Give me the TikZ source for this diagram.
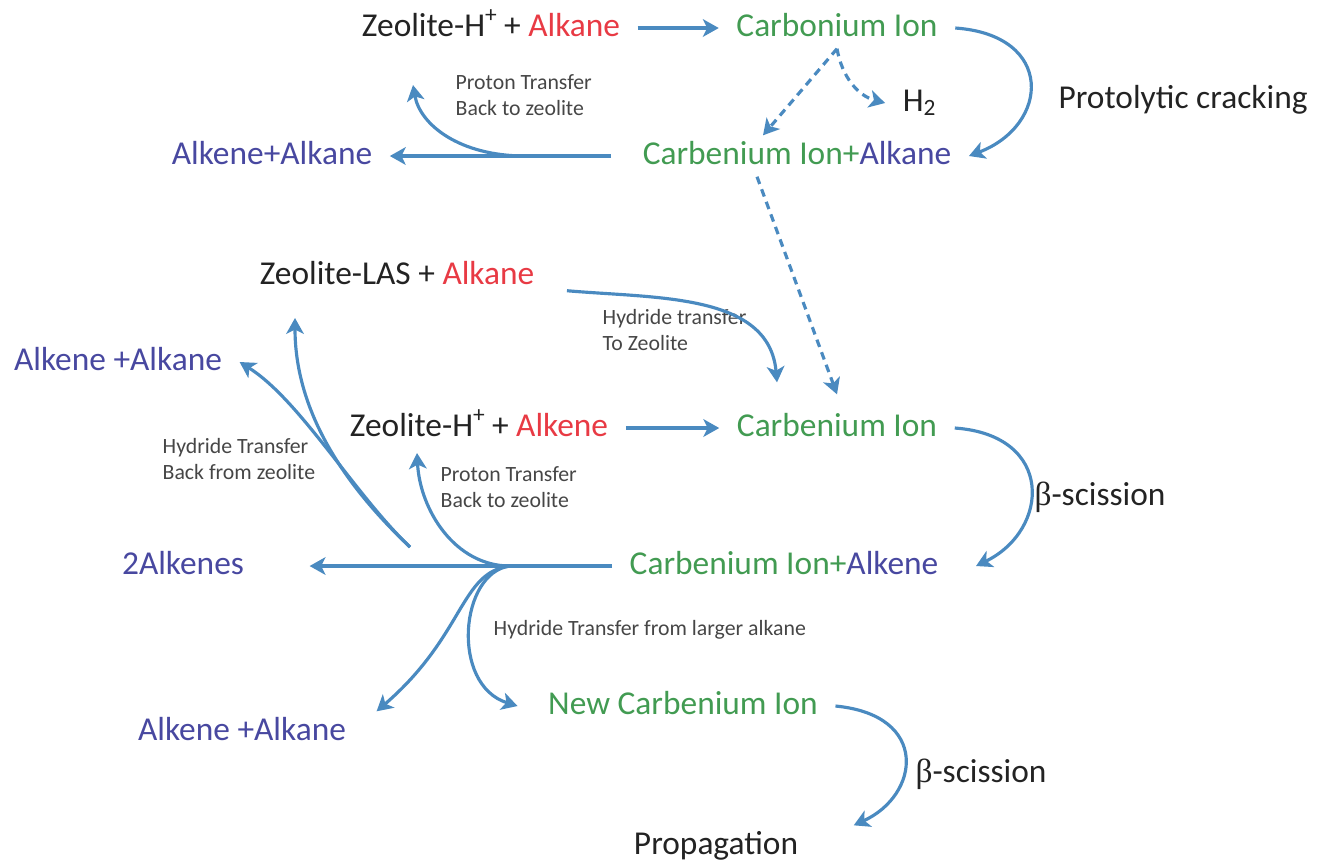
\documentclass[tikz,border=0pt]{standalone}
\usepackage{fontspec}
\setmainfont{Carlito}
\newfontfamily\betafont{Liberation Serif}
\usetikzlibrary{arrows.meta}
\definecolor{arrowblue}{RGB}{74,138,192}
\definecolor{iongreen}{RGB}{66,155,82}
\definecolor{alkred}{RGB}{232,58,68}
\definecolor{alkblue}{RGB}{72,72,160}
\definecolor{txtblack}{RGB}{35,35,35}
\definecolor{txtgray}{RGB}{70,70,70}
\newcommand{\bet}{{\betafont β}}
\begin{document}
\begin{tikzpicture}[x=1cm,y=-1cm,inner xsep=1.7mm,inner ysep=0.5mm,
  text=txtblack, text height=0.23cm, text depth=0.07cm,
  font=\fontsize{9.5}{11}\selectfont,
  >={Stealth[length=4.5pt,width=5pt,inset=1.2pt]},
  flow/.style={draw=arrowblue,line width=0.9pt,->},
  dflow/.style={flow,dash pattern=on 2.2pt off 1.6pt},
  note/.style={font=\fontsize{6.2}{7.4}\selectfont,text=txtgray,align=left,anchor=west,
    inner sep=0pt,text height=,text depth=}]

\useasboundingbox (0,0) rectangle (13.17,8.59);

\node(zh) at (4.91,0.28) {Zeolite-H\textsuperscript{+}\,+ \textcolor{alkred}{Alkane}};
\node(cb) at (8.37,0.28) {\textcolor{iongreen}{Carbonium Ion}};
\node(pc) at (11.83,1.00) {Protolytic cracking};
\node(h2) at (9.20,1.03) {H\textsubscript{2}};
\node(ca) at (7.97,1.56) {\textcolor{iongreen}{Carbenium Ion+}\textcolor{alkblue}{Alkane}};
\node(aa1) at (2.72,1.56) {\textcolor{alkblue}{Alkene+Alkane}};
\node[note](pt1) at (4.55,0.95) {Proton Transfer\\Back to zeolite};

\node(las) at (3.97,2.76) {Zeolite-LAS + \textcolor{alkred}{Alkane}};
\node[note](ht1) at (6.02,3.30) {Hydride transfer\\To Zeolite};
\node(aa2) at (1.18,3.62) {\textcolor{alkblue}{Alkene +Alkane}};
\node(zh2) at (4.79,4.28) {Zeolite-H\textsuperscript{+}\,+ \textcolor{alkred}{Alkene}};
\node(cb2) at (8.37,4.28) {\textcolor{iongreen}{Carbenium Ion}};
\node(bs1) at (11.00,4.97) {\bet-scission};
\node[note](ht2) at (1.62,4.59) {Hydride Transfer\\Back from zeolite};
\node[note](pt2) at (4.40,4.87) {Proton Transfer\\Back to zeolite};
\node(ak) at (1.83,5.66) {\textcolor{alkblue}{2Alkenes}};
\node(ce) at (7.84,5.66) {\textcolor{iongreen}{Carbenium Ion+}\textcolor{alkblue}{Alkene}};
\node[note](ht3) at (4.93,6.30) {Hydride Transfer from larger alkane};

\node(aa3) at (2.42,7.32) {\textcolor{alkblue}{Alkene +Alkane}};
\node(nc) at (6.83,7.06) {\textcolor{iongreen}{New Carbenium Ion}};
\node(bs2) at (9.81,7.74) {\bet-scission};
\node(pg) at (7.16,8.46) {Propagation};

\coordinate(j1) at (5.25,1.56);
\coordinate(pt1e) at (4.13,0.85);
\coordinate(j2) at (5.10,5.66);
\coordinate(pt2e) at (4.17,4.53);
\coordinate(hb) at (4.10,5.47);
\coordinate(lt) at (2.95,3.18);

\draw[flow] (zh) -- (cb);
\draw[flow] (cb.east) .. controls (10.55,0.35) and (10.5,1.25) .. (ca.east);
\draw[dflow] (cb.south) -- ([xshift=-3.4mm]ca.north);
\draw[dflow] (cb.south) to[out=-80,in=165] (h2.west);
\draw[flow,shorten <=1.4mm] (ca) -- (aa1);
\draw[flow] (j1) .. controls (4.60,1.56) and (4.20,1.25) .. (pt1e);
\draw[dflow] ([xshift=-4mm]ca.south) -- ([yshift=1.3mm]cb2.north);

\draw[flow] ([xshift=1.5mm,yshift=0.6mm]las.south east) to[out=-5,in=95] ([xshift=-6mm,yshift=2.5mm]cb2.north);
\draw[flow] (zh2) -- (cb2);
\draw[flow] (cb2.east) .. controls (10.55,4.35) and (10.5,5.30) .. ([xshift=2mm]ce.east);
\draw[flow,shorten >=4.8mm] (ce) -- (ak);
\draw[flow] (j2) .. controls (4.55,5.66) and (4.20,5.10) .. (pt2e);
\draw[flow] (hb) .. controls (3.55,4.95) and (2.95,4.20) .. (lt);
\draw[flow] (hb) .. controls (3.55,4.95) and (3.00,4.00) .. (aa2.east);
\draw[flow] (j2) .. controls (4.60,5.72) and (4.65,6.35) .. ([xshift=1.3mm]aa3.north east);
\draw[flow] (j2) .. controls (4.60,5.72) and (4.50,6.85) .. ([xshift=-1.3mm]nc.west);
\draw[flow] (nc.east) .. controls (9.3,7.15) and (9.2,7.95) .. ([xshift=3.8mm]pg.north east);

\end{tikzpicture}
\end{document}
